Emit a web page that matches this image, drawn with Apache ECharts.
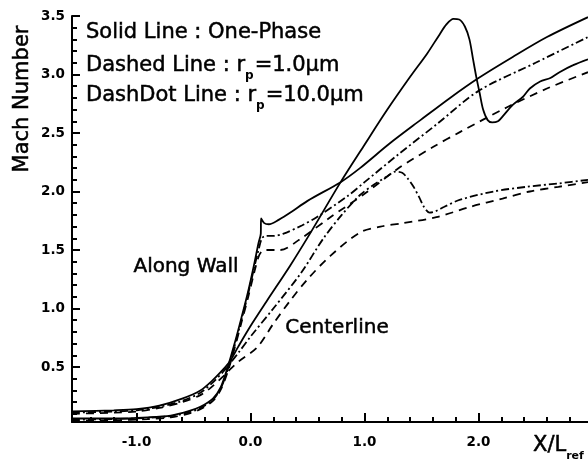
<!DOCTYPE html>
<html>
<head>
<meta charset="utf-8">
<script src="https://cdn.jsdelivr.net/npm/echarts@6/dist/echarts.min.js"></script>
<style>
  html, body { margin: 0; padding: 0; background: #fff; }
  #chart { width: 588px; height: 459px; }
</style>
</head>
<body>
<div id="chart"></div>
<script>
// Mach number distributions along the nozzle wall and the centerline

// Along wall, one-phase (solid)
const wallOneX = [-1.566, -1.2, -0.9, -0.7, -0.55, -0.44, -0.33, -0.26, -0.2, -0.14, -0.08, -0.02, 0.03, 0.07, 0.09, 0.092, 0.12, 0.16, 0.25, 0.35, 0.5, 0.79, 0.96, 1.22, 1.49, 1.75, 2.0, 2.3, 2.6, 2.96];
const wallOneM = [0.06, 0.06, 0.07, 0.085, 0.12, 0.16, 0.23, 0.33, 0.5, 0.7, 0.92, 1.15, 1.37, 1.56, 1.64, 1.77, 1.73, 1.72, 1.76, 1.82, 1.92, 2.08, 2.2, 2.41, 2.61, 2.8, 2.97, 3.15, 3.32, 3.49];

// Along wall, r_p = 1.0 um (dashed)
const wallSmallX = [-1.566, -1.2, -0.9, -0.7, -0.55, -0.44, -0.33, -0.26, -0.2, -0.14, -0.08, -0.02, 0.03, 0.07, 0.1, 0.14, 0.26, 0.43, 0.7, 1.0, 1.3, 1.6, 1.84, 2.25, 2.6, 2.96];
const wallSmallM = [0.04, 0.045, 0.055, 0.07, 0.1, 0.14, 0.21, 0.31, 0.46, 0.66, 0.88, 1.1, 1.3, 1.44, 1.49, 1.5, 1.5, 1.59, 1.78, 1.98, 2.2, 2.38, 2.51, 2.72, 2.88, 3.02];

// Along wall, r_p = 10.0 um (dash-dot)
const wallLargeX = [-1.566, -1.2, -0.9, -0.7, -0.55, -0.44, -0.33, -0.26, -0.2, -0.14, -0.08, -0.02, 0.03, 0.07, 0.1, 0.13, 0.2, 0.29, 0.45, 0.58, 0.85, 1.0, 1.3, 1.64, 2.0, 2.5, 2.96];
const wallLargeM = [0.05, 0.055, 0.065, 0.08, 0.11, 0.15, 0.22, 0.32, 0.48, 0.68, 0.9, 1.13, 1.34, 1.5, 1.6, 1.62, 1.62, 1.64, 1.71, 1.78, 1.96, 2.08, 2.32, 2.58, 2.86, 3.1, 3.32];

// Centerline, one-phase (solid)
const cenOneX = [-1.566, -1.2, -1.0, -0.8, -0.6, -0.44, -0.34, -0.24, -0.18, -0.11, 0.0, 0.14, 0.35, 0.54, 0.79, 1.0, 1.2, 1.4, 1.55, 1.65, 1.72, 1.78, 1.83, 1.88, 1.92, 1.95, 1.98, 2.01, 2.04, 2.08, 2.12, 2.17, 2.21, 2.3, 2.39, 2.45, 2.54, 2.63, 2.71, 2.83, 2.96];
const cenOneM = [0.12, 0.13, 0.14, 0.17, 0.23, 0.3, 0.38, 0.48, 0.55, 0.67, 0.85, 1.06, 1.37, 1.67, 2.08, 2.4, 2.7, 2.98, 3.18, 3.33, 3.43, 3.475, 3.47, 3.41, 3.3, 3.14, 2.98, 2.84, 2.7, 2.61, 2.59, 2.6, 2.64, 2.74, 2.81, 2.88, 2.94, 2.97, 3.02, 3.08, 3.13];

// Centerline, r_p = 1.0 um (dashed)
const cenSmallX = [-1.566, -1.2, -1.0, -0.8, -0.6, -0.44, -0.34, -0.24, -0.18, -0.1, 0.06, 0.2, 0.35, 0.5, 0.7, 0.96, 1.14, 1.34, 1.63, 1.93, 2.21, 2.45, 2.7, 2.96];
const cenSmallM = [0.1, 0.11, 0.12, 0.15, 0.2, 0.26, 0.33, 0.42, 0.48, 0.55, 0.67, 0.87, 1.07, 1.25, 1.45, 1.65, 1.7, 1.73, 1.78, 1.87, 1.94, 2.0, 2.04, 2.08];

// Centerline, r_p = 10.0 um (dash-dot)
const cenLargeX = [-1.566, -1.2, -1.0, -0.8, -0.6, -0.44, -0.34, -0.24, -0.18, -0.1, 0.0, 0.2, 0.44, 0.64, 0.8, 0.96, 1.1, 1.2, 1.27, 1.33, 1.38, 1.43, 1.48, 1.52, 1.57, 1.62, 1.7, 1.84, 2.13, 2.42, 2.71, 2.96];
const cenLargeM = [0.11, 0.12, 0.13, 0.16, 0.21, 0.28, 0.36, 0.46, 0.53, 0.63, 0.76, 1.0, 1.3, 1.6, 1.8, 1.97, 2.07, 2.13, 2.17, 2.16, 2.11, 2.04, 1.95, 1.87, 1.82, 1.83, 1.87, 1.93, 2.0, 2.04, 2.07, 2.1];

// Axis ticks
const xMajorTicks = [-1, 0, 1, 2];
const xMinorTicks = [-1.4, -1.2, -0.8, -0.6, -0.4, -0.2, 0.2, 0.4, 0.6, 0.8, 1.2, 1.4, 1.6, 1.8, 2.2, 2.4, 2.6, 2.8];
const yMajorTicks = [0.5, 1.0, 1.5, 2.0, 2.5, 3.0, 3.5];
const yMinorTicks = [0.1, 0.2, 0.3, 0.4, 0.6, 0.7, 0.8, 0.9, 1.1, 1.2, 1.3, 1.4, 1.6, 1.7, 1.8, 1.9, 2.1, 2.2, 2.3, 2.4, 2.6, 2.7, 2.8, 2.9, 3.1, 3.2, 3.3, 3.4];

const X_MIN = -1.566, X_MAX = 2.96, Y_MIN = 0.03, Y_MAX = 3.5;

const zip = (xs, ys) => xs.map((x, i) => [x, ys[i]]);

const FONT = '"DejaVu Sans", sans-serif';
const INK = '#000';

function curve(name, xs, ys, dash) {
  return {
    name, type: 'line', xAxisIndex: 0, yAxisIndex: 0,
    data: zip(xs, ys), showSymbol: false, smooth: 0.3,
    lineStyle: { color: INK, width: 1.8, type: dash, cap: 'butt' },
    emphasis: { disabled: true }, silent: true, z: 3
  };
}

const axisBase = {
  type: 'value', splitLine: { show: false }, gridIndex: 0
};

// heavier text strokes for the large labels
const heavy = { fill: INK, stroke: INK, lineWidth: 0.5 };

function subText(main1, sub, main2, size, subSize) {
  return {
    text: '{a|' + main1 + '}{s|' + sub + '}' + (main2 ? '{a|' + main2 + '}' : ''),
    fill: INK, textAlign: 'left', textVerticalAlign: 'middle',
    rich: {
      a: { fontFamily: FONT, fontSize: size, lineHeight: 26, verticalAlign: 'bottom', fill: INK, stroke: INK, lineWidth: 0.5 },
      s: { fontFamily: FONT, fontSize: subSize, fontWeight: 'bold', lineHeight: 26, verticalAlign: 'bottom', padding: [0, 1, -6, 0], fill: INK }
    }
  };
}

const chart = echarts.init(document.getElementById('chart'), null, { renderer: 'canvas' });
chart.setOption({
  animation: false,
  backgroundColor: '#fff',
  grid: { left: 72, right: 0, top: 16, bottom: 37, containLabel: false },
  xAxis: [
    Object.assign({}, axisBase, {
      min: X_MIN, max: X_MAX, position: 'bottom',
      axisLine: { show: true, onZero: false, lineStyle: { color: INK, width: 2 } },
      axisTick: { show: true, inside: true, length: 9, customValues: xMajorTicks, lineStyle: { color: INK, width: 2 } },
      axisLabel: { show: true, customValues: xMajorTicks, margin: 13, color: INK, fontFamily: FONT, fontWeight: 'bold', fontSize: 13.5,
        formatter: v => v.toFixed(1) }
    }),
    Object.assign({}, axisBase, {
      min: X_MIN, max: X_MAX, position: 'bottom', offset: 0,
      axisLine: { show: false, onZero: false },
      axisTick: { show: true, inside: true, length: 5, customValues: xMinorTicks, lineStyle: { color: INK, width: 2 } },
      axisLabel: { show: false }
    })
  ],
  yAxis: [
    Object.assign({}, axisBase, {
      min: Y_MIN, max: Y_MAX, position: 'left',
      axisLine: { show: true, onZero: false, lineStyle: { color: INK, width: 2 } },
      axisTick: { show: true, inside: true, length: 8, customValues: yMajorTicks, lineStyle: { color: INK, width: 2 } },
      axisLabel: { show: true, customValues: yMajorTicks, margin: 7, color: INK, fontFamily: FONT, fontWeight: 'bold', fontSize: 13.5,
        formatter: v => v.toFixed(1) }
    }),
    Object.assign({}, axisBase, {
      min: Y_MIN, max: Y_MAX, position: 'left', offset: 0,
      axisLine: { show: false, onZero: false },
      axisTick: { show: true, inside: true, length: 5, customValues: yMinorTicks, lineStyle: { color: INK, width: 2 } },
      axisLabel: { show: false }
    })
  ],
  series: [
    curve('Wall one-phase', wallOneX, wallOneM, 'solid'),
    curve('Wall rp=1.0', wallSmallX, wallSmallM, [8, 6]),
    curve('Wall rp=10.0', wallLargeX, wallLargeM, [8, 3, 2, 3]),
    curve('Centerline one-phase', cenOneX, cenOneM, 'solid'),
    curve('Centerline rp=1.0', cenSmallX, cenSmallM, [8, 6]),
    curve('Centerline rp=10.0', cenLargeX, cenLargeM, [8, 3, 2, 3])
  ],
  graphic: [
    { type: 'text', x: 23, y: 99, rotation: Math.PI / 2,
      style: Object.assign({ text: 'Mach Number', font: '21px ' + FONT, textAlign: 'center', textVerticalAlign: 'middle' }, heavy) },
    { type: 'text', x: 86, y: 33,
      style: Object.assign({ text: 'Solid Line : One-Phase', font: '21px ' + FONT, textAlign: 'left', textVerticalAlign: 'middle' }, heavy) },
    { type: 'text', x: 86, y: 63, style: subText('Dashed Line : r', 'p', '=1.0μm', 21, 12) },
    { type: 'text', x: 86, y: 93, style: subText('DashDot Line : r', 'p', '=10.0μm', 21, 12) },
    { type: 'text', x: 186, y: 267,
      style: Object.assign({ text: 'Along Wall', font: '20px ' + FONT, textAlign: 'center', textVerticalAlign: 'middle' }, heavy) },
    { type: 'text', x: 337, y: 328,
      style: Object.assign({ text: 'Centerline', font: '20px ' + FONT, textAlign: 'center', textVerticalAlign: 'middle' }, heavy) },
    { type: 'text', x: 533, y: 443, style: subText('X/L', 'ref', '', 21, 11) }
  ]
});
</script>
</body>
</html>
